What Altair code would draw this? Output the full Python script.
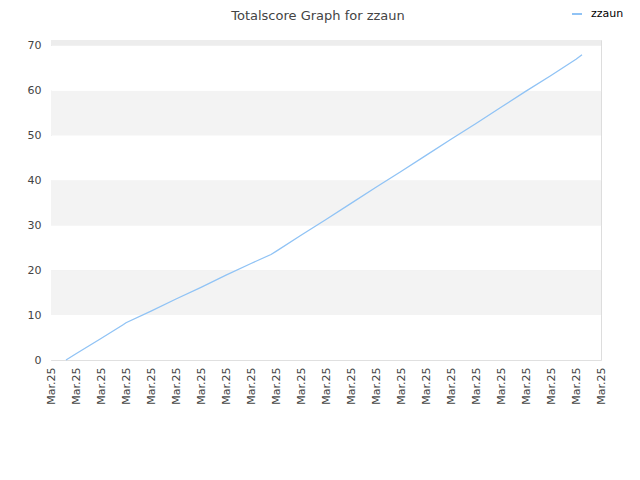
import altair as alt
import pandas as pd

# x positions (in tick-slot units, 0..22) and totalscore values
pos = [0.6, 1, 2, 2.9, 3, 4, 5, 6, 7, 8, 8.8, 9, 10, 11, 12, 13, 14, 15, 16, 17, 18, 19, 20, 21, 21.24]
score = [0, 1.4, 4.8, 7.9, 8.3, 10.9, 13.6, 16.2, 18.9, 21.5, 23.5, 24.2, 27.8, 31.3, 34.9,
         38.5, 42.0, 45.6, 49.2, 52.7, 56.3, 59.9, 63.4, 67.0, 68.0]
series = ["zzaun"] * len(pos)

tick_pos = list(range(23))
tick_label = "Mar.25"

band_lo = [0, 10, 20, 30, 40, 50, 60, 70]
band_hi = [10, 20, 30, 40, 50, 60, 70, 71.3]
band_col = ["#ffffff", "#f3f3f3", "#ffffff", "#f3f3f3", "#ffffff", "#f3f3f3", "#ffffff", "#ededed"]

line_df = pd.DataFrame({"pos": pos, "score": score, "series": series})
band_df = pd.DataFrame({"lo": band_lo, "hi": band_hi, "col": band_col})

W, H = 550, 320
xs = alt.Scale(domain=[0, 22], nice=False, zero=False)
ys = alt.Scale(domain=[0, 71.3], nice=False, zero=True)

bands = alt.Chart(band_df).mark_rect().encode(
    x=alt.value(0), x2=alt.value(W),
    y=alt.Y("lo:Q", scale=ys),
    y2="hi:Q",
    fill=alt.Fill("col:N", scale=None, legend=None),
)

line = alt.Chart(line_df).mark_line(strokeWidth=1.3).encode(
    x=alt.X("pos:Q", scale=xs,
            axis=alt.Axis(values=tick_pos, labelExpr=f"'{tick_label}'", labelAngle=270,
                          labelAlign="right", labelBaseline="middle", labelFontSize=11,
                          labelColor="#444", labelFont="DejaVu Sans", ticks=False,
                          domain=False, grid=False, labelPadding=7, title=None,
                          labelOverlap=False)),
    y=alt.Y("score:Q", scale=ys,
            axis=alt.Axis(values=[0, 10, 20, 30, 40, 50, 60, 70], labelFontSize=11,
                          labelColor="#444", labelFont="DejaVu Sans", ticks=False,
                          domain=False, grid=True, gridColor="#e0e0e0", labelPadding=10,
                          title=None)),
    color=alt.Color("series:N", scale=alt.Scale(range=["#90c3f5"]),
                    legend=alt.Legend(orient="none", legendX=520, legendY=-32, title=None,
                                      symbolType="stroke", symbolSize=100, symbolStrokeWidth=2,
                                      labelOffset=8, labelFontSize=11, labelColor="#000",
                                      labelFont="DejaVu Sans", padding=0)),
)

title_df = pd.DataFrame({"t": ["Totalscore Graph for zzaun"]})
title = alt.Chart(title_df).mark_text(fontSize=13, font="DejaVu Sans", color="#444",
                                      baseline="alphabetic", align="center").encode(
    x=alt.value(267), y=alt.value(-20), text="t:N")

chart = alt.layer(bands, line, title).properties(
    width=W, height=H,
    autosize=alt.AutoSizeParams(type="none"),
    padding={"left": 43, "top": 32, "right": 31, "bottom": 112},
).configure_view(stroke="#dddddd", strokeWidth=1).configure(background="#ffffff")

chart.save("out.html", embed_options={"renderer": "svg", "actions": False})
